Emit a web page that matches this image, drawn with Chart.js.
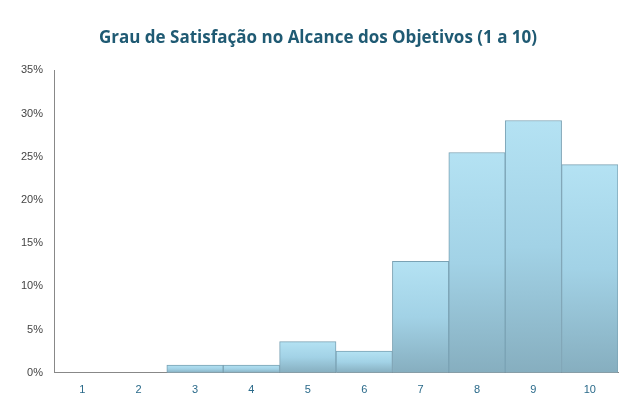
<!DOCTYPE html>
<html>
<head>
<meta charset="utf-8">
<script src="https://cdn.jsdelivr.net/npm/chart.js@4/dist/chart.umd.min.js"></script>
<style>
  body { margin: 0; background: #fff; }
  #wrap { width: 640px; height: 420px; }
</style>
</head>
<body>
<div id="wrap"><canvas id="c"></canvas></div>
<script>
const categories = ["1", "2", "3", "4", "5", "6", "7", "8", "9", "10"];
const values = [0, 0, 0.9, 0.9, 3.6, 2.5, 12.9, 25.5, 29.2, 24.1];
const yTicks = [0, 5, 10, 15, 20, 25, 30, 35];

const ctx = document.getElementById("c").getContext("2d");

new Chart(ctx, {
  type: "bar",
  data: {
    labels: categories,
    datasets: [{
      data: values,
      backgroundColor: (c) => {
        const chart = c.chart;
        const area = chart.chartArea;
        if (!area || c.raw === undefined) return "#a6d6ea";
        const y = chart.scales.y;
        const top = y.getPixelForValue(c.raw);
        const bottom = y.getPixelForValue(0);
        if (bottom - top < 1) return "#a6d6ea";
        const g = chart.ctx.createLinearGradient(0, top, 0, bottom);
        g.addColorStop(0, "#b4e2f3");
        g.addColorStop(0.5, "#a2d2e6");
        g.addColorStop(1, "#86aebf");
        return g;
      },
      borderColor: "#7aa2b4",
      borderWidth: 1,
      categoryPercentage: 1.0,
      barPercentage: 1.0
    }]
  },
  options: {
    responsive: true,
    maintainAspectRatio: false,
    animation: false,
    layout: { padding: { left: 18, right: 22, top: 6, bottom: 20 } },
    plugins: {
      legend: { display: false },
      tooltip: { enabled: false },
      title: {
        display: true,
        text: "Grau de Satisfação no Alcance dos Objetivos (1 a 10)",
        color: "#1f5a73",
        font: { family: "Open Sans", size: 17, weight: "bold" },
        padding: { top: 22, bottom: 22 }
      }
    },
    scales: {
      x: {
        grid: { display: false },
        border: { color: "#888" },
        ticks: { color: "#2a6a8a", font: { family: "Liberation Sans", size: 11 } }
      },
      y: {
        min: 0,
        max: 35,
        afterBuildTicks: (axis) => { axis.ticks = yTicks.map(v => ({ value: v })); },
        grid: { display: false },
        border: { color: "#888" },
        ticks: {
          color: "#444",
          font: { family: "Liberation Sans", size: 11 },
          callback: (v) => v + "%"
        }
      }
    }
  }
});
</script>
</body>
</html>
